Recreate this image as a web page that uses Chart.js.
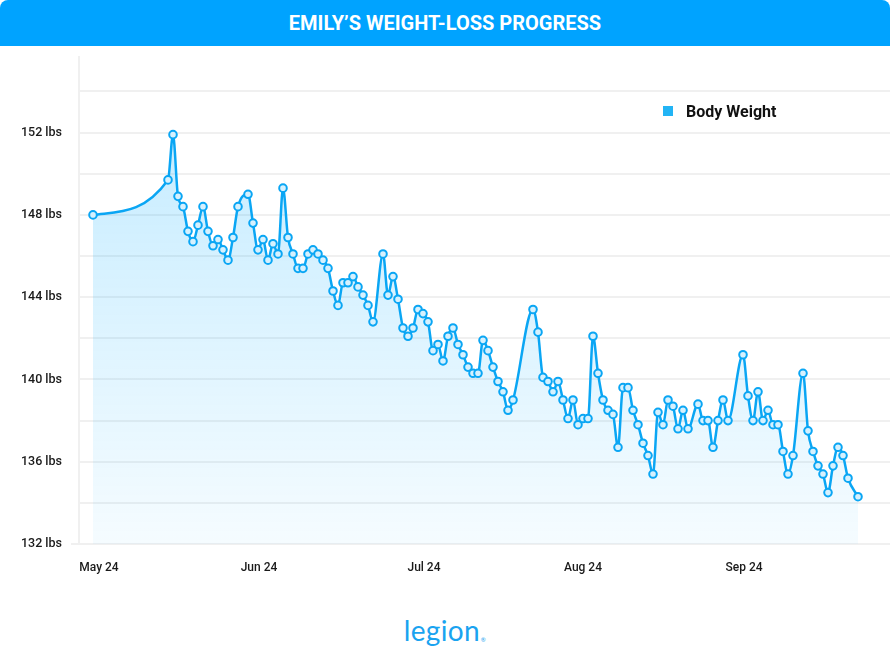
<!DOCTYPE html>
<html>
<head>
<meta charset="utf-8">
<script src="https://cdn.jsdelivr.net/npm/chart.js@4.4.1/dist/chart.umd.min.js"></script>
<style>
  body { margin: 0; background: #fff; width: 890px; height: 670px; position: relative; overflow: hidden; }
  #header {
    position: absolute; left: 0; top: 0; width: 890px; height: 46px;
    background: #00a3ff; border-radius: 8px 8px 0 0;
    color: #fff; font: 700 20px Roboto, sans-serif; text-align: center; line-height: 46px;
  }
  #wrap { position: absolute; left: 0; top: 40px; width: 890px; height: 546px; }
  #legend { position: absolute; left: 663px; top: 101px; height: 20px; display: flex; align-items: center; }
  #legend span.box { width: 10px; height: 10px; background: #22b4f5; margin-right: 13px; }
  #legend span.txt { font: 700 16px Roboto, sans-serif; color: #111; }
  #logo {
    position: absolute; left: 0; width: 890px; top: 613px; text-align: center;
    font: 400 28px Lato, sans-serif; color: #1aa3f0; letter-spacing: 0.3px;
  }
  #logo sup { font-size: 6px; vertical-align: -1px; margin-left: 1px; }
</style>
</head>
<body>
<div id="header">EMILY’S WEIGHT-LOSS PROGRESS</div>
<div id="wrap"><canvas id="myChart"></canvas></div>
<div id="legend"><span class="box"></span><span class="txt">Body Weight</span></div>
<div id="logo">legion<sup>®</sup></div>
<script>
// dia de la medicion (indice desde el primer registro)
const days = [0, 15, 16, 17, 18, 19, 20, 21, 22, 23, 24, 25, 26, 27, 28, 29, 31, 32, 33, 34,
  35, 36, 37, 38, 39, 40, 41, 42, 43, 44, 45, 46, 47, 48, 49, 50, 51, 52, 53, 54,
  55, 56, 58, 59, 60, 61, 62, 63, 64, 65, 66, 67, 68, 69, 70, 71, 72, 73, 74, 75,
  76, 77, 78, 79, 80, 81, 82, 83, 84, 88, 89, 90, 91, 92, 93, 94, 95, 96, 97, 98,
  99, 100, 101, 102, 103, 104, 105, 106, 107, 108, 109, 110, 111, 112, 113, 114, 115, 116, 117, 118,
  119, 121, 122, 123, 124, 125, 126, 127, 130, 131, 132, 133, 134, 135, 136, 137, 138, 139, 140, 142,
  143, 144, 145, 146, 147, 148, 149, 150, 151, 153];

// peso en libras
const weights = [148.0, 149.7, 151.9, 148.9, 148.4, 147.2, 146.7, 147.5, 148.4, 147.2, 146.5, 146.8, 146.3, 145.8, 146.9, 148.4, 149.0, 147.6, 146.3, 146.8,
  145.8, 146.6, 146.1, 149.3, 146.9, 146.1, 145.4, 145.4, 146.1, 146.3, 146.1, 145.8, 145.4, 144.3, 143.6, 144.7, 144.7, 145.0, 144.5, 144.1,
  143.6, 142.8, 146.1, 144.1, 145.0, 143.9, 142.5, 142.1, 142.5, 143.4, 143.2, 142.8, 141.4, 141.7, 140.9, 142.1, 142.5, 141.7, 141.2, 140.6,
  140.3, 140.3, 141.9, 141.4, 140.6, 139.9, 139.4, 138.5, 139.0, 143.4, 142.3, 140.1, 139.9, 139.4, 139.9, 139.0, 138.1, 139.0, 137.8, 138.1,
  138.1, 142.1, 140.3, 139.0, 138.5, 138.3, 136.7, 139.6, 139.6, 138.5, 137.8, 136.9, 136.3, 135.4, 138.4, 137.8, 139.0, 138.7, 137.6, 138.5,
  137.6, 138.8, 138.0, 138.0, 136.7, 138.0, 139.0, 138.0, 141.2, 139.2, 138.0, 139.4, 138.0, 138.5, 137.8, 137.8, 136.5, 135.4, 136.3, 140.3,
  137.5, 136.5, 135.8, 135.4, 134.5, 135.8, 136.7, 136.3, 135.2, 134.3];

// etiquetas del eje x y donde van
const monthLabels = ['May 24', 'Jun 24', 'Jul 24', 'Aug 24', 'Sep 24'];
const monthTicks = [1.2, 33.2, 66.2, 98, 130.2];

const yMin = 132;
const yMax = 155.7;

const ctx = document.getElementById('myChart');

new Chart(ctx, {
  type: 'line',
  data: {
    datasets: [{
      label: 'Body Weight',
      data: days.map((d, i) => ({ x: d, y: weights[i] })),
      borderColor: '#0aa6f4',
      borderWidth: 2.5,
      cubicInterpolationMode: 'monotone',
      pointRadius: 3.8,
      pointBorderWidth: 2,
      pointBackgroundColor: '#d6f1fe',
      pointBorderColor: '#0aa6f4',
      fill: 'start',
      backgroundColor: (c) => {
        const area = c.chart.chartArea;
        if (!area) return 'rgba(0,170,255,0.15)';
        const g = c.chart.ctx.createLinearGradient(0, area.top, 0, area.bottom);
        g.addColorStop(0, 'rgba(0,170,255,0.26)');
        g.addColorStop(0.3, 'rgba(0,170,255,0.19)');
        g.addColorStop(1, 'rgba(0,170,255,0.04)');
        return g;
      }
    }]
  },
  options: {
    responsive: true,
    maintainAspectRatio: false,
    animation: false,
    layout: { autoPadding: false, padding: { top: 10, right: 0, left: 0, bottom: 0 } },
    plugins: {
      legend: { display: false },
      tooltip: { enabled: false }
    },
    scales: {
      x: {
        type: 'linear',
        min: -2.8,
        max: 159.4,
        afterFit: (s) => { s.height = 42; },
        afterBuildTicks: (s) => { s.ticks = monthTicks.map(v => ({ value: v })); },
        grid: { display: false },
        border: { display: false },
        ticks: {
          padding: 9,
          maxRotation: 0,
          autoSkip: false,
          color: '#1a1a1a',
          font: { family: 'Roboto', size: 12, weight: '500' },
          callback: (v) => monthLabels[monthTicks.indexOf(v)]
        }
      },
      y: {
        min: yMin,
        max: yMax,
        afterFit: (s) => { s.width = 79; },
        afterBuildTicks: (s) => { s.ticks = s.ticks.filter(t => t.value % 2 === 0); },
        border: { display: true, color: '#f0f0f0', width: 2 },
        grid: {
          color: '#f0f0f0',
          lineWidth: 2,
          drawTicks: true,
          tickLength: 8,
          tickColor: (c) => (c.tick && c.tick.value === yMin) ? '#f0f0f0' : 'rgba(0,0,0,0)'
        },
        ticks: {
          stepSize: 2,
          padding: 9,
          color: '#1a1a1a',
          font: { family: 'Roboto', size: 12.5, weight: '500' },
          callback: (v) => (v % 4 === 0 ? v + ' lbs' : '')
        }
      }
    }
  }
});
</script>
</body>
</html>
